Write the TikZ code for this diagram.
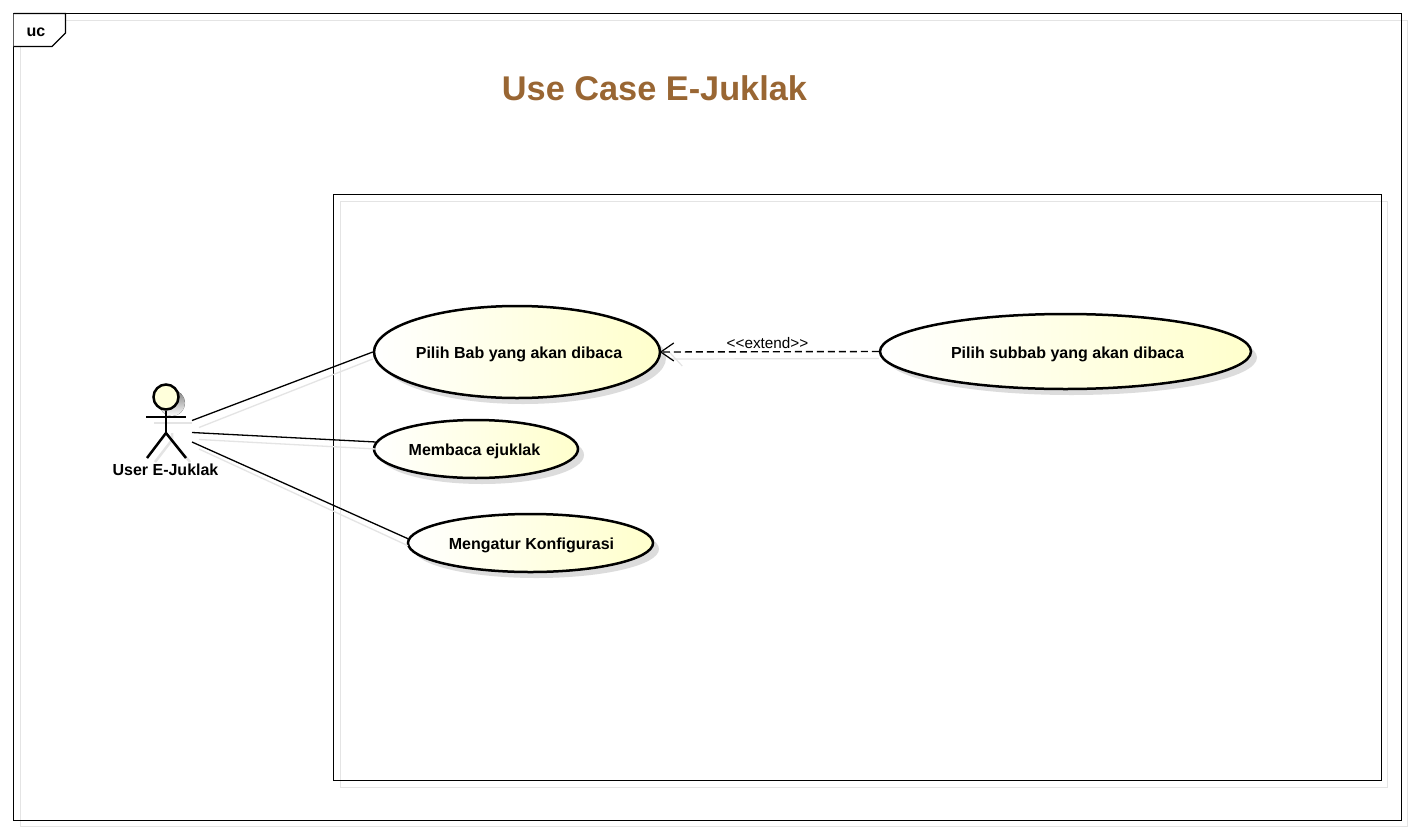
\documentclass[tikz,border=0pt]{standalone}
\usepackage{fontspec}
\setmainfont{Liberation Sans}
\usetikzlibrary{shapes.geometric,arrows.meta,shadows}
\definecolor{shade}{HTML}{DCDCDC}
\definecolor{softshade}{HTML}{E4E4E4}
\definecolor{cream}{HTML}{FFFFCC}
\definecolor{titlebrown}{HTML}{996633}
\tikzset{
  usecase/.style={ellipse,draw=black,line width=2.5pt,inner sep=0pt,
    left color=white,right color=cream,
    drop shadow={shadow xshift=6pt,shadow yshift=-6pt,fill=shade,opacity=1}},
  boldtext/.style={font=\fontsize{16}{18}\selectfont\bfseries},
  casetext/.style={boldtext,yshift=-2.5pt},
  assoc/.style={draw=black,line width=1.3pt},
  assocshade/.style={draw=softshade,line width=1.3pt},
  frameline/.style={draw=black,line width=1.1pt},
  frameshade/.style={draw=softshade,line width=1.1pt},
  limb/.style={draw=black,line width=2.5pt},
  limbshade/.style={draw=softshade,line width=2.5pt},
}
\begin{document}
\begin{tikzpicture}[x=1pt,y=-1pt]
\useasboundingbox (0,0) rectangle (1414,833);
\fill[white] (0,0) rectangle (1414,833);
% frame
\draw[frameshade] (20.5,20.5) rectangle (1407.5,826.5);
\draw[frameline] (13.5,13.5) rectangle (1401.5,820.5);
\draw[frameline,fill=white] (13.5,13.5) -- (65.5,13.5) -- (65.5,33) -- (52,46.5) -- (13.5,46.5);
\node[boldtext] (framelabel) at (36,32) {uc};
\node[text=titlebrown,font=\fontsize{34.3}{40}\selectfont\bfseries] (title) at (654.5,88) {Use Case E-Juklak};
% system boundary
\draw[frameshade] (340.5,201.5) rectangle (1387.5,787.5);
\draw[frameline] (333.5,194.5) rectangle (1381.5,780.5);
% use cases
\node[usecase,minimum width=286pt,minimum height=92pt,label={[casetext,xshift=2pt]center:Pilih Bab yang akan dibaca}] (bab) at (517,352) {};
\node[usecase,minimum width=204pt,minimum height=58pt,label={[casetext,xshift=-1.5pt]center:Membaca ejuklak}] (baca) at (476,449) {};
\node[usecase,minimum width=245pt,minimum height=58pt,label={[casetext,xshift=1pt]center:Mengatur Konfigurasi}] (atur) at (530.5,543) {};
\node[usecase,minimum width=371pt,minimum height=75pt,label={[casetext,xshift=2pt]center:Pilih subbab yang akan dibaca}] (sub) at (1065.5,351.5) {};
% actor
\fill[shade] (172,403) circle (13);
\draw[limbshade] (154,423) -- (192,423);
\draw[limbshade] (172,433) -- (172,440) -- (155,462);
\draw[limbshade] (172,440) -- (190,462);
\node[circle,draw=black,line width=2.5pt,fill=cream!70!white,minimum size=25pt,inner sep=0pt] (head) at (166,397) {};
\coordinate (arml) at (146,417);
\coordinate (armr) at (186,417);
\coordinate (hip) at (166,433);
\coordinate (footl) at (147,458);
\coordinate (footr) at (186,458);
\draw[limb] (arml) -- (armr);
\draw[limb] (head.south) -- (hip);
\draw[limb] (footl) -- (hip) -- (footr);
\node[boldtext] (actorlabel) at (165.5,470) {User E-Juklak};
% connector ends at the actor
\coordinate (a1) at (192,420.5);
\coordinate (a2) at (192,432.5);
\coordinate (a3) at (192,442);
% connector shadows
\draw[assocshade] ([shift={(7,7)}]a1) -- ([shift={(0,7)}]bab.west);
\draw[assocshade] ([shift={(7,7)}]a2) -- ([shift={(0,7)}]baca.176);
\draw[assocshade] ([shift={(7,7)}]a3) -- ([shift={(0,7)}]atur.178);
\draw[draw=softshade,line width=1.2pt] ([shift={(0,7)}]sub.west) -- ([shift={(8,7)}]bab.east);
\draw[draw=softshade,line width=1.2pt] ([shift={(8,0)}]bab.east) -- ++(13,14);
% connectors
\draw[assoc] (a1) -- (bab.west);
\draw[assoc] (a2) -- (baca.176);
\draw[assoc] (a3) -- (atur.178);
\draw[draw=black,line width=1.4pt,dash pattern=on 7pt off 4pt,shorten >=-1.5pt,-{Straight Barb[length=13pt,width=18pt,line width=1.2pt]}] (sub.west) -- (bab.east);
\node[font=\fontsize{15.3}{17}\selectfont] (ext) at (767.5,343.5) {<{}<extend>{}>};
\end{tikzpicture}
\end{document}
